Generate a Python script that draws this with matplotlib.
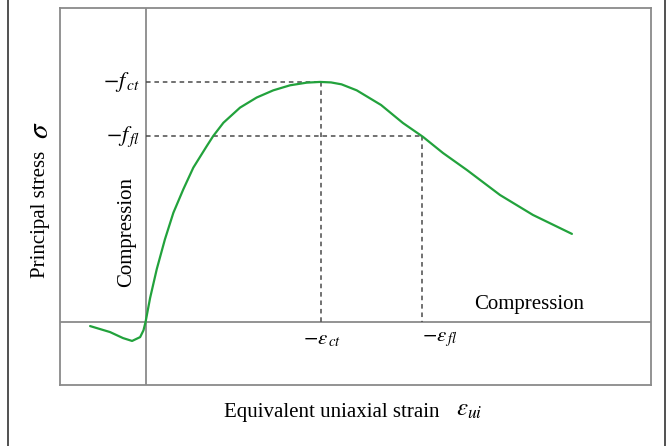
import matplotlib
matplotlib.use("Agg")
import matplotlib.pyplot as plt
from matplotlib.lines import Line2D
import numpy as np

plt.rcParams['font.family'] = ['Liberation Serif', 'DejaVu Serif']
plt.rcParams['mathtext.fontset'] = 'stix'

# stress-strain curve (normalised: eps_ct = 1, f_ct = 1)
strain = [-0.317, -0.203, -0.129, -0.077, -0.031, -0.012, 0.0, 0.026, 0.064,
          0.111, 0.159, 0.216, 0.273, 0.350, 0.387, 0.445, 0.540, 0.635,
          0.730, 0.826, 0.921, 0.997, 1.060, 1.120, 1.207, 1.346, 1.471, 1.586,
          1.700, 1.837, 2.026, 2.214, 2.437]
stress = [-0.017, -0.042, -0.067, -0.079, -0.063, -0.035, 0.0, 0.100, 0.220,
          0.345, 0.455, 0.553, 0.643, 0.733, 0.775, 0.830, 0.893, 0.935,
          0.965, 0.986, 0.997, 1.000, 0.998, 0.990, 0.965, 0.904, 0.829, 0.771,
          0.704, 0.633, 0.529, 0.446, 0.367]

eps_ct, f_ct = 1.0, 1.0
eps_fl, f_fl = 1.58, 0.773

W, H = 667, 446
fig = plt.figure(figsize=(W/100, H/100), dpi=100)
ax = fig.add_axes([60/W, 1-385/H, 591/W, 377/H])
ax.set_xlim(-0.489, 2.889)
ax.set_ylim(-0.2625, 1.308)

gray = '#8a8a8a'
for s in ax.spines.values():
    s.set_color(gray)
    s.set_linewidth(1.3)
ax.set_xticks([])
ax.set_yticks([])

ax.axhline(0, color=gray, lw=1.3, zorder=1)
ax.axvline(0, color=gray, lw=1.3, zorder=1)

dash = dict(color='#4a4a4a', lw=1.1, ls=(0, (3, 2.5)), zorder=2)
ax.plot([0, eps_ct], [f_ct, f_ct], **dash)
ax.plot([eps_ct, eps_ct], [f_ct, 0], **dash)
ax.plot([0, eps_fl], [f_fl, f_fl], **dash)
ax.plot([eps_fl, eps_fl], [f_fl, 0], **dash)

ax.plot(strain, stress, color='#22a23c', lw=1.6, zorder=3,
        solid_joinstyle='round', solid_capstyle='round')

# labels on the axes
ax.text(-0.03, f_ct, r'$-f_{\,ct}$', fontsize=16, ha='right', va='center')
ax.text(-0.03, f_fl, r'$-f_{\,fl}$', fontsize=16, ha='right', va='center')
ax.text(eps_ct + 0.01, -0.075, r'$-\varepsilon_{\,ct}$', fontsize=15, ha='center', va='center')
ax.text(eps_fl + 0.1, -0.075, r'$-\varepsilon_{\,fl}$', fontsize=15, ha='center', va='center')

fs = 15
fig.text(127/W, 1-232/H, 'Compression', rotation=90, fontsize=fs, ha='center', va='center')
fig.text(529/W, 1-304/H, 'Compression', fontsize=fs, ha='center', va='center')
fig.text(40/W, 1-214/H, 'Principal stress', rotation=90, fontsize=fs,
         ha='center', va='center')
fig.text(41/W, 1-130/H, r'$\sigma$', rotation=90, fontsize=21,
         ha='center', va='center')
fig.text(332/W, 1-413/H, 'Equivalent uniaxial strain', fontsize=fs,
         ha='center', va='center')
fig.text(456/W, 1-410/H, r'$\varepsilon_{ui}$', fontsize=18,
         ha='left', va='center')

# outer frame lines
fig.add_artist(Line2D([8/W, 8/W], [0, 1], color='#333333', lw=1.2))
fig.add_artist(Line2D([665/W, 665/W], [0, 1], color='#333333', lw=1.2))

fig.savefig('out.png', dpi=100)
